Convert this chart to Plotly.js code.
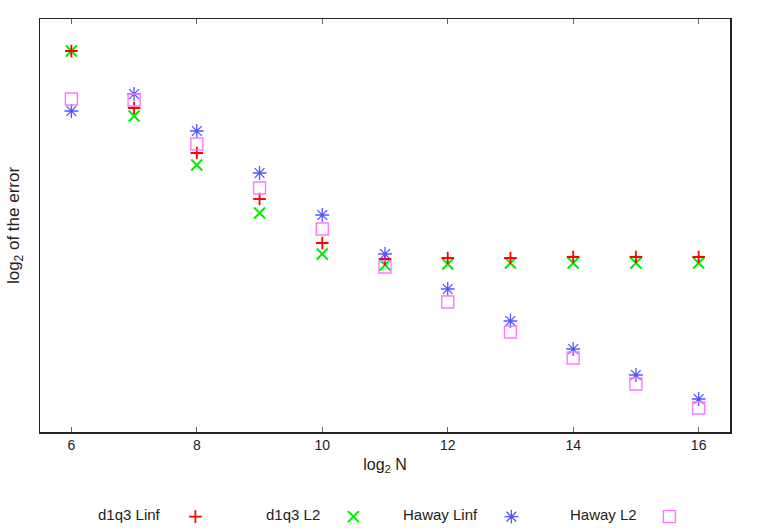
<!DOCTYPE html>
<html>
<head>
<meta charset="utf-8">
<script src="https://cdn.plot.ly/plotly-3.0.1.min.js"></script>
<style>html,body{margin:0;padding:0;background:#fff;}#chart{width:758px;height:531px;}</style>
</head>
<body>
<div id="chart"></div>
<script>
var log2N = [6, 7, 8, 9, 10, 11, 12, 13, 14, 15, 16];
var d1q3Linf = [38.1, 32.4, 27.9, 23.3, 18.9, 17.3, 17.4, 17.4, 17.5, 17.5, 17.5];
var d1q3L2   = [38.1, 31.6, 26.7, 21.9, 17.8, 16.7, 16.8, 16.9, 16.9, 16.9, 16.9];
var hawayLinf = [32.1, 33.8, 30.1, 25.9, 21.7, 17.8, 14.3, 11.1, 8.3, 5.7, 3.3];
var hawayL2   = [33.3, 33.2, 28.8, 24.4, 20.3, 16.5, 13.0, 10.0, 7.4, 4.8, 2.4];
var seriesNames = ['d1q3 Linf', 'd1q3 L2', 'Haway Linf', 'Haway L2'];
var xTicks = [6, 8, 10, 12, 14, 16];

var markers = [
  {symbol: 'cross-thin-open', size: 9, color: '#ff0000', line: {width: 1.8, color: '#ff0000'}},
  {symbol: 'x-thin-open', size: 11, color: '#00ee00', line: {width: 2, color: '#00ee00'}},
  {symbol: 'asterisk-open', size: 11.5, color: '#5555ff', line: {width: 1.3, color: '#5555ff'}},
  {symbol: 'square-open', size: 12, color: '#ff77ff', line: {width: 1.4, color: '#ff77ff'}}
];
var ys = [d1q3Linf, d1q3L2, hawayLinf, hawayL2];
var drawOrder = [1, 0, 2, 3];

var traces = drawOrder.map(function (i) {
  return {x: log2N, y: ys[i], name: seriesNames[i], mode: 'markers', type: 'scatter',
          marker: markers[i], showlegend: false};
});
// legend-only symbol entries (labels are drawn as annotations to the left of each symbol)
seriesNames.forEach(function (n, i) {
  traces.push({x: [null], y: [null], name: '', mode: 'markers', type: 'scatter',
               marker: markers[i], showlegend: true, legendrank: i + 1});
});

var labelX = [129.5, 292.5, 440, 603];
var annotations = seriesNames.map(function (n, i) {
  return {text: n, xref: 'paper', yref: 'paper', x: (labelX[i] - 39.5) / 690.5, y: -0.2,
          xanchor: 'center', yanchor: 'middle', showarrow: false,
          font: {family: 'Liberation Sans, Arial, sans-serif', size: 15, color: '#222'}};
});

var layout = {
  width: 758, height: 531,
  margin: {l: 39.5, r: 28, t: 19, b: 99, autoexpand: false},
  paper_bgcolor: '#fff', plot_bgcolor: '#fff',
  font: {family: 'Liberation Sans, Arial, sans-serif', size: 14, color: '#222'},
  showlegend: true,
  legend: {orientation: 'h', x: (175 - 39.5) / 690.5, xanchor: 'left', y: -0.205, yanchor: 'middle',
           entrywidth: 113, entrywidthmode: 'pixels', itemwidth: 30, traceorder: 'normal',
           font: {size: 13}, bgcolor: 'rgba(0,0,0,0)'},
  annotations: annotations,
  xaxis: {range: [5.5, 16.5], tickvals: xTicks, ticktext: xTicks.map(String),
          ticks: 'inside', ticklen: 5, tickwidth: 1, tickcolor: '#666',
          showline: true, linecolor: '#222', linewidth: 1.5, mirror: 'allticks',
          showgrid: false, zeroline: false,
          tickfont: {size: 14, color: '#222'},
          title: {text: 'log<sub>2</sub> N', font: {size: 16, color: '#222'}, standoff: 6}},
  yaxis: {range: [0, 41.3], showticklabels: false, ticks: '',
          showline: true, linecolor: '#222', linewidth: 1.5, mirror: true,
          showgrid: false, zeroline: false,
          title: {text: 'log<sub>2</sub> of the error', font: {size: 17, color: '#222'}, standoff: 14}}
};

Plotly.newPlot('chart', traces, layout, {displayModeBar: false, staticPlot: true});
</script>
</body>
</html>
